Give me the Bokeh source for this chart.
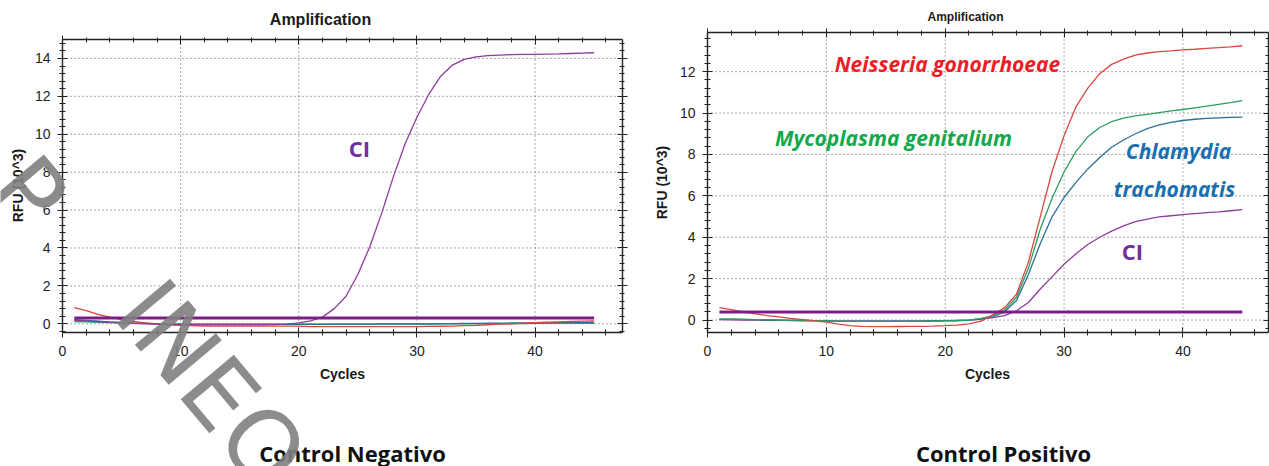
import math
from bokeh.plotting import figure
from bokeh.models import Label, LinearAxis, Range1d, FixedTicker
from bokeh.layouts import row
from bokeh.embed import file_html
from bokeh.resources import INLINE

# ---------------- data ----------------
CYCLES = list(range(1, 46))

# Control Negativo
NEG_CI = [0.18, 0.15, 0.12, 0.08, 0.05, 0.02, 0.0, -0.02, -0.04, -0.05,
          -0.05, -0.05, -0.05, -0.05, -0.05, -0.05, -0.05, -0.04, -0.02, 0.05,
          0.15, 0.35, 0.8, 1.45, 2.6, 4.05, 5.8, 7.75, 9.5, 10.9,
          12.1, 13.05, 13.65, 13.95, 14.08, 14.15, 14.18, 14.2, 14.21, 14.22,
          14.23, 14.24, 14.26, 14.28, 14.3]
NEG_NG = [0.85, 0.7, 0.5, 0.35, 0.22, 0.12, 0.05, 0.0, -0.05, -0.08,
          -0.1, -0.12, -0.12, -0.12, -0.12, -0.12, -0.12, -0.12, -0.12, -0.12,
          -0.15, -0.15, -0.15, -0.15, -0.15, -0.15, -0.15, -0.15, -0.15, -0.15,
          -0.14, -0.13, -0.12, -0.1, -0.08, -0.05, -0.02, 0.0, 0.03, 0.06,
          0.08, 0.1, 0.12, 0.14, 0.15]
NEG_MG = [0.12, 0.1, 0.08, 0.06, 0.05, 0.03, 0.02, 0.01, 0.0, -0.01,
          -0.02, -0.02, -0.02, -0.02, -0.02, -0.02, -0.02, -0.02, -0.02, -0.02,
          -0.02, -0.02, -0.02, -0.02, -0.02, -0.02, -0.02, -0.02, -0.02, -0.02,
          -0.02, -0.01, -0.01, 0.0, 0.0, 0.0, 0.01, 0.01, 0.01, 0.02,
          0.02, 0.02, 0.02, 0.02, 0.02]
NEG_CT = [0.22, 0.18, 0.14, 0.1, 0.07, 0.04, 0.02, 0.0, -0.02, -0.03,
          -0.03, -0.03, -0.03, -0.03, -0.03, -0.03, -0.03, -0.03, -0.03, -0.03,
          -0.03, -0.03, -0.02, -0.02, -0.02, -0.02, -0.01, -0.01, 0.0, 0.0,
          0.0, 0.01, 0.01, 0.02, 0.02, 0.03, 0.03, 0.04, 0.05, 0.05,
          0.06, 0.06, 0.07, 0.07, 0.08]
NEG_THRESHOLD = 0.3

# Control Positivo
POS_NG = [0.6, 0.5, 0.4, 0.3, 0.22, 0.15, 0.08, 0.02, -0.04, -0.1,
          -0.2, -0.27, -0.3, -0.32, -0.32, -0.31, -0.3, -0.3, -0.29, -0.27,
          -0.24, -0.18, -0.05, 0.25, 0.6, 1.25, 2.8, 5.0, 7.2, 8.9,
          10.3, 11.2, 11.9, 12.35, 12.6, 12.8, 12.9, 12.97, 13.0, 13.05,
          13.08, 13.12, 13.16, 13.2, 13.25]
POS_MG = [0.05, 0.04, 0.03, 0.02, 0.01, 0.0, -0.01, -0.02, -0.03, -0.04,
          -0.05, -0.06, -0.06, -0.06, -0.06, -0.06, -0.06, -0.05, -0.05, -0.04,
          -0.03, 0.0, 0.08, 0.2, 0.5, 1.1, 2.5, 4.4, 5.9, 7.15,
          8.15, 8.85, 9.3, 9.58, 9.75, 9.86, 9.94, 10.02, 10.1, 10.17,
          10.25, 10.33, 10.42, 10.5, 10.6]
POS_CT = [0.05, 0.04, 0.03, 0.02, 0.01, 0.0, -0.01, -0.02, -0.03, -0.04,
          -0.05, -0.05, -0.05, -0.05, -0.05, -0.05, -0.05, -0.05, -0.04, -0.03,
          -0.02, 0.0, 0.06, 0.15, 0.4, 0.95, 2.2, 3.7, 5.0, 5.92,
          6.65, 7.3, 7.85, 8.35, 8.7, 9.0, 9.25, 9.43, 9.55, 9.64,
          9.7, 9.74, 9.77, 9.79, 9.8]
POS_CI = [0.02, 0.01, 0.0, 0.0, -0.01, -0.01, -0.02, -0.02, -0.03, -0.04,
          -0.05, -0.05, -0.05, -0.05, -0.05, -0.05, -0.05, -0.05, -0.04, -0.03,
          -0.02, -0.01, 0.05, 0.12, 0.22, 0.45, 0.85, 1.5, 2.1, 2.7,
          3.2, 3.65, 4.0, 4.3, 4.55, 4.75, 4.88, 4.98, 5.04, 5.09,
          5.14, 5.19, 5.23, 5.28, 5.33]
POS_THRESHOLD = 0.39

X_TICKS = [0, 10, 20, 30, 40]
X_MINOR = list(range(0, 48, 2))
NEG_Y_TICKS = [0, 2, 4, 6, 8, 10, 12, 14]
POS_Y_TICKS = [0, 2, 4, 6, 8, 10, 12]
Y_MINOR = [round(-0.4 + 0.4 * i, 1) for i in range(40)]

C_NG = "#d9473f"
C_MG = "#2e9e5e"
C_CT = "#2b6f98"
C_CI = "#8e3a9e"
C_THR = "#7b1f86"
INK = "#222222"

LABEL_FONT = "Liberation Sans"
ANN_FONT = "Open Sans"


def px_per_unit(L):
    return ((L["fr"] - L["fl"]) / (L["x1"] - L["x0"]),
            (L["fb"] - L["ft"]) / (L["y1"] - L["y0"]))


def page_to_data(L, px, py):
    sx, sy = px_per_unit(L)
    return L["x0"] + (px - L["fl"]) / sx, L["y1"] - (py - L["ft"]) / sy


def make_chart(L, yticks, series, threshold, right_tick_out):
    # the frame covers the whole canvas; the plot box is drawn by fixed-location axes
    cx0, cy1 = page_to_data(L, L["ox"], L["oy"])
    cx1, cy0 = page_to_data(L, L["ox"] + L["w"], L["oy"] + L["h"])
    p = figure(width=L["w"], height=L["h"], output_backend="svg", toolbar_location=None,
               title=None, x_range=Range1d(cx0, cx1), y_range=Range1d(cy0, cy1),
               min_border_left=0, min_border_right=0, min_border_top=0, min_border_bottom=0)
    p.outline_line_color = None
    p.background_fill_color = "white"
    p.border_fill_color = "white"
    p.xgrid.visible = False
    p.ygrid.visible = False

    # dotted grid inside the plot box
    p.segment(x0=X_TICKS[1:], y0=[L["y0"]] * (len(X_TICKS) - 1),
              x1=X_TICKS[1:], y1=[L["y1"]] * (len(X_TICKS) - 1),
              line_color="#555555", line_dash="1 3", line_width=1)
    p.segment(x0=[L["x0"]] * len(yticks), y0=yticks, x1=[L["x1"]] * len(yticks), y1=yticks,
              line_color="#555555", line_dash="1 3", line_width=1)

    y_minor = [v for v in Y_MINOR if L["y0"] <= v <= L["y1"]]
    x_minor = [v for v in X_MINOR if L["x0"] <= v <= L["x1"]]
    bottom = p.below[0]
    left = p.left[0]
    top = LinearAxis()
    right = LinearAxis()
    p.add_layout(top, "above")
    p.add_layout(right, "right")
    for ax, ticks, minor, loc, bounds in [
            (bottom, X_TICKS, x_minor, L["y0"], (L["x0"], L["x1"])),
            (top, X_TICKS, x_minor, L["y1"], (L["x0"], L["x1"])),
            (left, yticks, y_minor, L["x0"], (L["y0"], L["y1"])),
            (right, yticks, y_minor, L["x1"], (L["y0"], L["y1"]))]:
        ax.ticker = FixedTicker(ticks=ticks, minor_ticks=minor)
        ax.fixed_location = loc
        ax.bounds = bounds
        ax.axis_line_color = INK
        ax.axis_line_width = 1.4
        ax.major_tick_line_color = INK
        ax.minor_tick_line_color = INK
        ax.major_tick_in = 5
        ax.major_tick_out = 5
        ax.minor_tick_in = 3
        ax.minor_tick_out = 3
        ax.major_label_text_font = LABEL_FONT
        ax.major_label_text_font_size = "14px"
        ax.major_label_text_color = INK
    bottom.major_label_standoff = 8
    left.major_label_standoff = 7
    for ax in [top, right]:
        ax.major_label_text_alpha = 0
        ax.major_label_text_font_size = "1px"
    top.major_tick_out = 4
    top.minor_tick_out = 2
    right.major_tick_out = right_tick_out
    right.minor_tick_out = min(right_tick_out, 2)

    for vals, col in series:
        p.line(CYCLES, vals, line_color=col, line_width=1.3)
    p.line([CYCLES[0], CYCLES[-1]], [threshold, threshold], line_color=C_THR, line_width=3)
    return p


def add_label(p, L, px, py, text, size, color="#1a1a1a", font=LABEL_FONT, style="bold",
              angle=0.0, align="center", alpha=1.0):
    x, y = page_to_data(L, px, py)
    p.add_layout(Label(x=x, y=y, text=text, text_font=font, text_font_size=size,
                       text_font_style=style, text_color=color, text_align=align,
                       text_baseline="middle", angle=angle, text_alpha=alpha))


# ---------------- left chart ----------------
LL = dict(ox=0, oy=0, w=645, h=466, fl=62, fr=622, ft=39, fb=332,
          x0=0, x1=47.4, y0=-0.46, y1=15.0)
p1 = make_chart(LL, NEG_Y_TICKS,
                [(NEG_MG, C_MG), (NEG_CT, C_CT), (NEG_NG, C_NG), (NEG_CI, C_CI)],
                NEG_THRESHOLD, 5)
add_label(p1, LL, 320, 19, "Amplification", "16px")
add_label(p1, LL, 342, 373, "Cycles", "14px")
add_label(p1, LL, 17, 185, "RFU (10^3)", "14px", angle=math.pi / 2)
add_label(p1, LL, 359, 147, "CI", "22px", color="#7030a0", font=ANN_FONT)
add_label(p1, LL, 352, 452, "Control Negativo", "22px", color="#111111", font=ANN_FONT)
# watermark
add_label(p1, LL, 28, 192, "P", "95px", color="#808080", font="DejaVu Sans", style="normal",
          angle=-0.873, alpha=0.9)
add_label(p1, LL, 211, 384, "INEO", "95px", color="#808080", font="DejaVu Sans", style="normal",
          angle=-0.873, alpha=0.9)

# ---------------- right chart ----------------
RL = dict(ox=645, oy=0, w=624, h=466, fl=707, fr=1268, ft=32, fb=332,
          x0=0, x1=47.2, y0=-0.6, y1=13.89)
p2 = make_chart(RL, POS_Y_TICKS,
                [(POS_CI, C_CI), (POS_CT, C_CT), (POS_MG, C_MG), (POS_NG, C_NG)],
                POS_THRESHOLD, 0)
add_label(p2, RL, 965, 16, "Amplification", "12px")
add_label(p2, RL, 987, 373, "Cycles", "14px")
add_label(p2, RL, 661, 182, "RFU (10^3)", "14px", angle=math.pi / 2)
add_label(p2, RL, 947, 63, "Neisseria gonorrhoeae", "21px", color="#ee1c25", font=ANN_FONT,
          style="bold italic")
add_label(p2, RL, 893, 137, "Mycoplasma genitalium", "21px", color="#13a84a", font=ANN_FONT,
          style="bold italic")
add_label(p2, RL, 1178, 150, "Chlamydia", "21px", color="#1a6fb0", font=ANN_FONT,
          style="bold italic")
add_label(p2, RL, 1174, 188, "trachomatis", "21px", color="#1a6fb0", font=ANN_FONT,
          style="bold italic")
add_label(p2, RL, 1132, 250, "CI", "22px", color="#7030a0", font=ANN_FONT)
add_label(p2, RL, 1003, 452, "Control Positivo", "22px", color="#111111", font=ANN_FONT)

layout = row(p1, p2)
open("out.html", "w").write(file_html(layout, INLINE))
